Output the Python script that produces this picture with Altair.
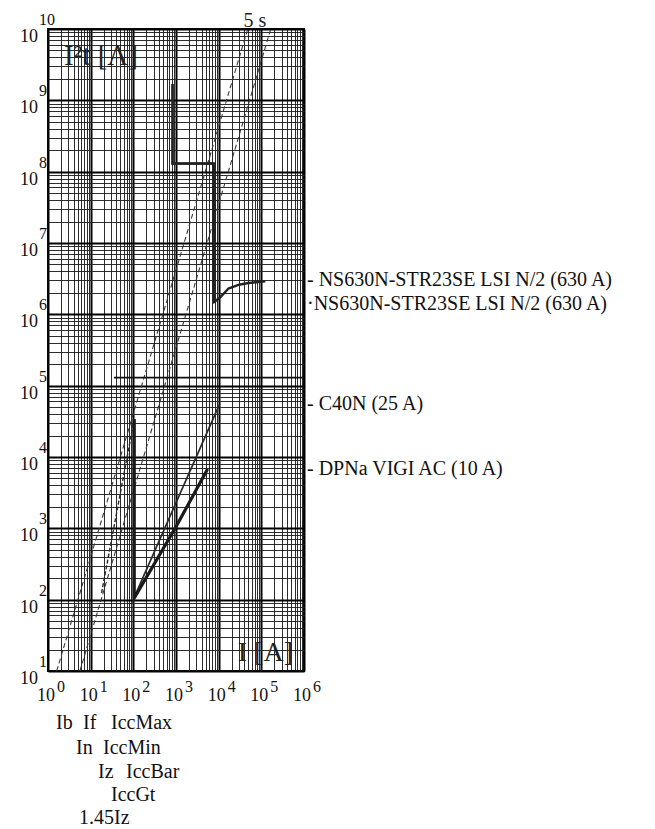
import altair as alt
import pandas as pd

SERIF = "Liberation Serif"
W, H = 256, 642

# ---------------- data (I in A, I²t in A²s) ----------------
t5s_I = [1.6, 48000]
t5s_E = [10, 1e10]
tb_I = [5.6, 166000]
tb_E = [10, 1e10]

ns_a_I = [830, 830, 8000, 8000, 11000, 17000, 30000, 50000, 124000]
ns_a_E = [1.7e9, 1.3e8, 1.3e8, 1.5e6, 1.75e6, 2.3e6, 2.6e6, 2.75e6, 2.9e6]
ns_b_I = [830, 830, 7600, 7600]
ns_b_E = [1.7e9, 1.3e8, 1.3e8, 1.45e6]

c40_I = [110, 10500]
c40_E = [115, 5.5e4]

dpna_th_I = [18, 105]
dpna_th_E = [124, 3.4e4]
dpna_I = [105, 105, 1000, 5500]
dpna_E = [3.4e4, 105, 1050, 6800]

k2s2_I = [35, 1e6]
k2s2_E = [1.3e5, 1.3e5]

label_names = ["- NS630N-STR23SE LSI N/2 (630 A)", "·NS630N-STR23SE LSI N/2 (630 A)",
               "- C40N (25 A)", "- DPNa VIGI AC (10 A)"]
label_E = [3.0e6, 1.4e6, 5.5e4, 6800]

x_exps = [0, 1, 2, 3, 4, 5, 6]
y_exps = [1, 2, 3, 4, 5, 6, 7, 8, 9, 10]

bottom_names = ["Ib", "If", "IccMax", "In", "IccMin", "Iz", "IccBar", "IccGt", "1.45Iz"]
bottom_row = [0, 0, 0, 1, 1, 2, 2, 3, 4]
# layout (pixel offsets from plot left edge)
bottom_px = [8, 35, 63, 28, 55, 50, 78, 63, 31]
row_py = [H + 52, H + 77, H + 101, H + 124, H + 147]

x_grid = [m * 10 ** k for k in range(0, 6) for m in range(1, 10)] + [1e6]
y_grid = [m * 10 ** k for k in range(1, 10) for m in range(1, 10)] + [1e10]

# ---------------- scales / axes ----------------
xs = alt.Scale(type="log", domain=[1, 1e6], nice=False)
ys = alt.Scale(type="log", domain=[10, 1e10], nice=False)
major = "abs(log(datum.value)/LN10 - round(log(datum.value)/LN10)) < 0.001"
gw = {"condition": {"test": major, "value": 2.0}, "value": 0.95}
gc = {"condition": {"test": major, "value": "#000000"}, "value": "#222222"}
xaxis = alt.Axis(values=x_grid, labels=False, ticks=False, domain=False, title=None,
                 grid=True, gridColor=gc, gridWidth=gw)
yaxis = alt.Axis(values=y_grid, labels=False, ticks=False, domain=False, title=None,
                 grid=True, gridColor=gc, gridWidth=gw)


def X(f="I:Q"):
    return alt.X(f, scale=xs, axis=xaxis)


def Y(f="E:Q"):
    return alt.Y(f, scale=ys, axis=yaxis)


def line(I, E, width, color, dash=None):
    df = pd.DataFrame({"I": I, "E": E, "k": list(range(len(I)))})
    kw = dict(strokeWidth=width, color=color, clip=True)
    if dash:
        kw["strokeDash"] = dash
    return alt.Chart(df).mark_line(**kw).encode(x=X(), y=Y(), order="k:Q")


layers = [
    line(t5s_I, t5s_E, 1.1, "#3a3a3a", [5, 3]),
    line(tb_I, tb_E, 1.1, "#3a3a3a", [5, 3]),
    line(k2s2_I, k2s2_E, 1.8, "#111111"),
    line(ns_b_I, ns_b_E, 2.2, "#222222"),
    line(ns_a_I, ns_a_E, 2.4, "#222222"),
    line(c40_I, c40_E, 1.7, "#2a2a2a"),
    line(dpna_th_I, dpna_th_E, 1.4, "#2a2a2a", [4, 2]),
    line(dpna_I, dpna_E, 3.2, "#1a1a1a"),
]

# tick labels (10 with exponent)
xt = pd.DataFrame({"I": [10.0 ** k for k in x_exps], "b": ["10"] * len(x_exps),
                   "e": [str(k) for k in x_exps]})
yt = pd.DataFrame({"E": [10.0 ** k for k in y_exps], "b": ["10"] * len(y_exps),
                   "e": [str(k) for k in y_exps]})

layers += [
    alt.Chart(xt).mark_text(font=SERIF, fontSize=18, align="center", baseline="middle", dx=-2, color="#111")
    .encode(x=X(), y=alt.value(H + 25), text="b:N"),
    alt.Chart(xt).mark_text(font=SERIF, fontSize=16, align="left", baseline="middle", dx=9, color="#111")
    .encode(x=X(), y=alt.value(H + 16), text="e:N"),
    alt.Chart(yt).mark_text(font=SERIF, fontSize=18, align="right", baseline="middle", dy=8, color="#111")
    .encode(x=alt.value(-10), y=Y(), text="b:N"),
    alt.Chart(yt).mark_text(font=SERIF, fontSize=16, align="left", baseline="middle", dy=-9, color="#111")
    .encode(x=alt.value(-9), y=Y(), text="e:N"),
]

# right-hand labels at the end of each curve
lab = pd.DataFrame({"E": label_E, "t": label_names})
layers.append(
    alt.Chart(lab).mark_text(font=SERIF, fontSize=20, align="left", baseline="middle", color="#111")
    .encode(x=alt.value(W + 3), y=Y(), text="t:N")
)

# axis titles and annotations
ann = [
    ("I²t [A]", 16, 27, "left", 29),
    ("I [A]", 245, 624, "right", 28),
    ("5 s", 207, -8, "center", 20),
]
for txt, px, py, al, fs in ann:
    layers.append(
        alt.Chart(pd.DataFrame({"t": [txt]})).mark_text(font=SERIF, fontSize=fs, align=al,
                                                        baseline="middle", color="#222")
        .encode(x=alt.value(px), y=alt.value(py), text="t:N")
    )

for name, r, px in zip(bottom_names, bottom_row, bottom_px):
    layers.append(
        alt.Chart(pd.DataFrame({"t": [name]})).mark_text(font=SERIF, fontSize=20, align="left",
                                                         baseline="middle", color="#111")
        .encode(x=alt.value(px), y=alt.value(row_py[r]), text="t:N")
    )

chart = (
    alt.layer(*layers)
    .properties(width=W, height=H, padding={"left": 12, "top": 3, "right": 5, "bottom": 0},
                background="white")
    .configure_view(stroke="#111", strokeWidth=2)
)

chart.save("out.html", embed_options={"renderer": "svg", "actions": False})
